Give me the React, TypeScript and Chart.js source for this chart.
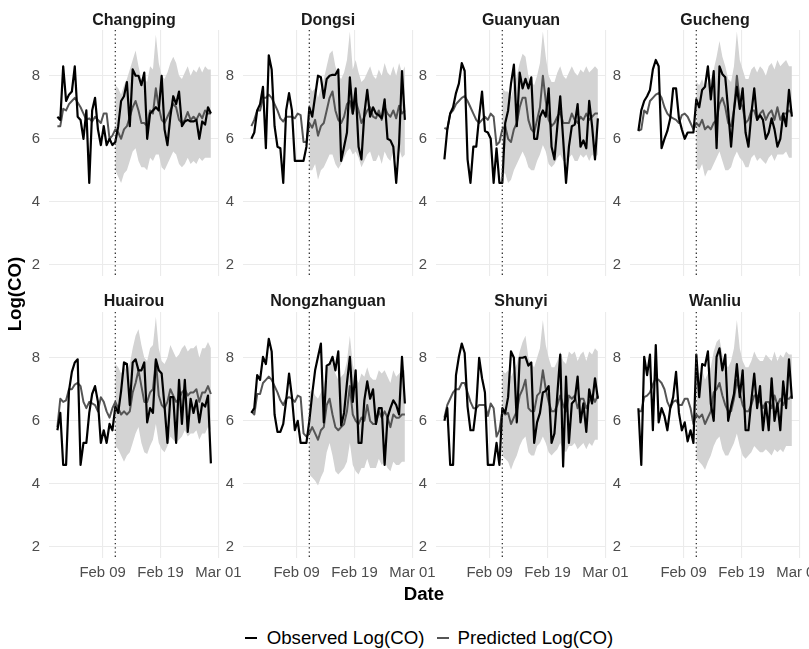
import React, { useEffect, useRef } from "react";
import { Chart, registerables } from "chart.js";

Chart.register(...registerables);

// ---------------- data ----------------
const STATIONS = ["Changping", "Dongsi", "Guanyuan", "Gucheng", "Huairou", "Nongzhanguan", "Shunyi", "Wanliu"];

// time axis: days after Feb 01 00:00, one observation every 12 hours
const FIRST_DAY = 0.2;
const STEP_DAYS = 0.5;
const N_POINTS = 54;
const FORECAST_START = 20; // index where the forecast (ribbon) starts
const X_TICK_DAYS = [8, 18, 28];
const X_TICK_LABELS = ["Feb 09", "Feb 19", "Mar 01"];
const Y_TICKS = [2, 4, 6, 8];

const obsChangping = [6.7,6.6,8.3,7.2,7.4,7.5,8.3,6.7,6.6,6.0,6.9,4.6,6.9,7.3,6.3,5.8,6.4,5.8,6.0,5.8,5.9,6.4,7.2,7.35,7.8,6.4,8.2,8.0,8.0,7.7,8.1,6.0,6.8,6.9,7.0,6.9,8.0,6.3,5.8,6.7,7.35,7.1,7.5,6.4,6.55,6.6,6.55,6.55,6.6,6.0,6.55,6.45,7.0,6.8];
const predChangping = [6.4,6.4,6.95,6.9,7.1,7.2,7.3,7.15,7.0,6.8,6.6,6.65,6.55,6.7,6.6,6.5,6.8,6.8,6.0,6.1,6.3,6.2,6.0,6.3,6.4,6.7,7.0,7.2,6.9,6.5,6.5,6.4,6.9,6.8,7.6,7.0,6.6,6.5,6.7,6.9,7.1,7.0,6.6,6.5,6.6,6.85,6.6,6.7,6.6,6.8,6.65,6.9,6.8,6.8];
const upChangping = [7.7,7.6,7.4,7.7,7.9,8.2,8.5,8.8,8.3,7.9,7.9,7.8,8.3,8.2,9.3,8.4,8.0,7.9,8.1,8.4,8.6,8.4,8.0,7.9,8.1,8.3,8.0,8.2,8.1,8.3,8.1,8.3,8.2,8.2];
const loChangping = [5.0,4.8,4.6,4.9,5.0,5.3,5.6,5.7,5.3,5.1,5.1,5.0,5.4,5.3,5.5,5.5,5.1,5.0,5.2,5.4,5.6,5.5,5.2,5.1,5.2,5.4,5.2,5.3,5.2,5.4,5.3,5.4,5.4,5.4];

const obsDongsi = [6.0,6.2,6.9,7.1,7.65,5.7,8.65,8.2,6.4,5.75,5.7,4.6,6.9,7.45,6.9,5.3,5.3,5.3,5.3,5.75,7.0,6.7,7.35,8.0,7.95,7.3,7.9,8.0,8.03,8.03,8.2,5.3,5.75,6.2,7.95,6.8,7.6,5.75,5.35,6.8,7.55,6.7,7.0,6.8,6.75,6.65,7.25,6.0,5.95,5.75,4.6,5.85,8.15,6.6];
const predDongsi = [6.4,6.6,6.9,6.9,7.3,7.3,7.4,7.3,7.1,6.9,6.65,6.55,6.7,6.7,6.7,6.65,6.8,6.75,5.9,5.9,6.5,6.35,6.6,6.1,6.4,6.5,6.9,7.3,7.5,6.9,6.6,6.5,6.7,7.1,7.2,6.8,7.2,6.9,6.5,6.7,6.9,7.0,6.7,6.65,6.9,6.6,7.0,6.8,6.7,6.9,6.65,7.05,6.8,6.9];
const upDongsi = [7.7,7.5,7.6,7.3,7.6,7.9,8.3,8.7,8.8,8.3,8.0,7.9,8.1,8.5,9.4,8.2,8.5,8.1,7.8,7.9,8.1,8.3,8.0,7.9,8.2,8.0,8.4,8.1,8.0,8.3,8.0,8.4,8.1,8.3];
const loDongsi = [5.0,5.0,5.2,4.7,5.0,5.1,5.3,5.5,5.5,5.2,5.05,5.2,5.4,5.6,5.7,5.5,5.6,5.4,5.1,5.3,5.5,5.6,5.3,5.3,5.5,5.2,5.6,5.4,5.3,5.6,5.3,5.7,5.4,5.5];

const obsGuanyuan = [5.35,6.3,6.8,7.0,7.45,7.75,8.4,8.15,5.35,4.6,5.75,5.75,6.7,7.5,6.25,6.2,6.0,4.6,5.7,4.6,4.6,6.5,6.9,7.75,8.35,6.4,8.1,7.6,7.9,7.6,7.95,6.0,6.0,6.7,6.9,6.7,7.6,5.75,5.35,6.4,7.35,6.0,4.6,5.75,6.4,6.45,7.1,5.75,5.95,5.7,7.2,6.4,5.35,6.65];
const predGuanyuan = [6.35,6.3,6.8,6.9,7.1,7.2,7.3,7.35,7.2,7.0,6.8,6.6,6.5,6.6,6.7,6.6,6.8,6.7,5.8,5.9,6.3,6.4,6.0,5.9,6.3,6.5,7.0,7.3,7.3,6.6,6.3,6.2,6.6,7.0,8.0,7.2,6.6,6.4,6.5,6.7,6.85,6.5,6.5,6.5,6.8,6.6,6.5,6.7,6.6,6.8,6.6,6.7,6.8,6.8];
const upGuanyuan = [7.6,7.5,7.5,7.3,7.7,8.0,8.4,8.7,8.6,8.0,7.8,7.7,8.0,8.4,9.4,8.6,8.0,7.8,7.8,8.1,8.3,8.0,7.9,8.1,8.3,8.1,8.0,8.2,8.1,8.3,8.1,8.2,8.3,8.2];
const loGuanyuan = [4.9,4.9,4.6,4.7,5.0,5.2,5.4,5.6,5.4,5.1,5.0,5.0,5.3,5.5,5.8,5.6,5.2,5.1,5.2,5.4,5.5,5.3,5.3,5.4,5.5,5.3,5.3,5.5,5.4,5.5,5.3,5.5,5.4,5.5];

const obsGucheng = [6.25,6.9,7.2,7.35,7.55,8.2,8.5,8.3,5.7,6.0,6.25,6.65,7.6,7.6,6.65,6.3,6.0,6.2,6.2,6.2,7.25,7.0,7.55,7.65,8.3,7.25,8.15,5.7,8.3,8.05,7.95,6.9,5.75,6.9,7.65,6.95,7.6,6.2,5.75,6.8,7.6,6.6,6.75,6.6,6.0,6.2,6.65,6.3,5.75,6.0,6.8,6.4,7.55,6.7];
const predGucheng = [6.25,6.3,6.9,6.8,7.2,7.3,7.4,7.45,7.3,7.0,6.8,6.7,6.65,6.6,6.5,6.75,6.8,6.7,6.5,6.3,6.5,6.4,6.6,6.3,6.4,6.3,6.5,6.6,7.1,7.3,7.0,6.5,6.4,6.9,8.0,7.2,7.0,6.5,6.6,6.9,6.9,6.6,6.8,6.9,6.6,6.8,6.9,6.6,7.0,6.6,6.8,6.8,6.9,6.8];
const upGucheng = [7.8,7.7,7.9,7.6,7.8,7.9,8.2,8.6,9.1,8.6,8.3,7.9,7.8,8.3,9.4,8.5,8.2,7.9,7.9,8.2,8.3,8.1,8.3,8.2,8.0,8.3,8.4,8.2,8.5,8.3,8.4,8.5,8.3,8.3];
const loGucheng = [5.1,5.0,5.2,4.8,5.0,5.0,5.2,5.4,5.6,5.3,5.0,5.0,5.1,5.4,5.6,5.4,5.3,5.1,5.1,5.4,5.5,5.3,5.4,5.3,5.2,5.4,5.5,5.3,5.5,5.5,5.5,5.6,5.4,5.4];

const obsHuairou = [5.7,6.25,4.6,4.6,6.95,7.55,7.85,7.95,4.6,5.3,5.3,6.25,6.85,7.1,6.6,5.3,5.7,5.3,5.9,5.7,6.45,6.25,6.95,7.85,7.8,6.5,7.85,7.95,7.6,7.6,7.85,5.95,6.4,6.25,7.95,7.6,7.5,6.45,5.3,6.75,6.75,5.3,7.3,5.9,7.3,5.65,6.7,6.25,6.65,5.95,6.55,6.45,6.8,4.65];
const predHuairou = [5.8,6.7,6.6,6.65,7.0,7.0,7.15,7.2,7.1,6.6,6.4,6.6,6.55,6.5,6.3,6.75,6.6,6.3,6.1,6.4,6.6,6.4,6.2,6.3,6.2,6.3,6.9,7.2,7.6,7.1,6.6,6.6,6.9,7.0,7.9,6.8,6.5,6.4,6.6,7.0,6.8,6.6,6.7,6.9,7.0,6.8,6.9,6.9,7.0,6.6,6.9,6.9,7.1,6.85];
const upHuairou = [7.8,7.7,7.5,7.7,7.6,7.8,8.3,8.7,8.9,8.4,8.0,7.9,8.3,8.4,9.3,8.3,7.9,7.8,8.0,8.4,8.2,8.0,8.1,8.3,8.4,8.2,8.3,8.3,8.4,8.0,8.3,8.3,8.5,8.3];
const loHuairou = [5.2,5.1,4.9,4.7,4.9,5.0,5.3,5.6,5.8,5.3,5.0,4.95,5.2,5.4,5.9,5.3,5.1,5.0,5.2,5.5,5.4,5.3,5.4,5.5,5.7,5.5,5.6,5.6,5.7,5.4,5.6,5.6,5.8,5.7];

const obsNongzhanguan = [6.25,6.4,7.45,7.3,8.03,7.8,8.6,8.2,6.2,5.65,5.65,5.9,6.65,7.5,6.75,5.7,6.0,5.3,5.3,5.3,6.0,6.85,7.6,8.03,8.45,5.95,7.75,7.8,8.03,7.6,8.2,5.85,6.25,7.2,8.03,6.6,7.6,5.3,5.3,6.65,7.25,6.7,7.0,5.9,6.4,6.4,4.6,6.1,6.4,6.65,6.5,6.2,8.03,6.55];
const predNongzhanguan = [6.3,6.2,6.85,6.85,7.2,7.3,7.4,7.3,7.1,6.9,6.65,6.5,6.7,6.75,6.7,6.6,6.8,6.75,5.6,5.5,5.6,5.8,5.6,5.4,5.7,5.8,6.5,6.7,6.2,5.8,5.7,5.8,5.9,6.3,7.1,6.2,6.0,5.9,6.1,6.0,6.5,6.0,5.9,5.9,6.3,6.1,6.3,6.1,5.8,6.2,6.1,6.1,6.2,6.2];
const upNongzhanguan = [6.9,7.0,6.8,6.7,6.9,7.1,7.6,7.9,7.8,7.5,7.3,7.4,7.5,7.9,8.7,7.8,7.4,7.2,7.5,7.4,7.7,7.4,7.3,7.3,7.6,7.5,7.6,7.4,7.2,7.6,7.4,7.5,7.6,7.6];
const loNongzhanguan = [4.3,4.2,4.1,3.95,4.2,4.4,5.0,5.3,4.9,4.4,4.3,4.4,4.5,4.7,5.3,4.6,4.4,4.3,4.5,4.5,4.8,4.5,4.5,4.5,4.8,4.6,4.7,4.5,4.4,4.7,4.6,4.6,4.7,4.7];

const obsShunyi = [6.0,6.4,4.6,4.6,7.45,8.03,8.45,8.15,6.45,5.7,5.7,6.45,8.0,7.35,6.9,4.6,4.6,4.6,5.3,4.6,6.4,6.25,6.75,8.2,8.0,5.95,8.0,8.0,8.03,7.75,7.85,5.3,5.95,6.25,6.9,6.95,7.1,5.3,5.6,6.85,8.1,4.55,7.4,5.3,6.55,6.65,7.4,5.95,6.55,5.65,7.0,6.55,7.35,6.7];
const predShunyi = [6.1,6.5,6.7,6.9,7.0,7.0,7.2,7.2,6.9,6.6,6.4,6.4,6.5,6.5,6.5,6.15,6.55,6.4,5.5,5.7,6.3,6.2,6.25,5.9,6.1,6.3,6.8,7.0,7.3,6.4,6.3,6.3,6.8,6.9,7.6,7.0,6.6,6.3,6.3,6.5,6.8,6.5,6.3,6.8,6.7,6.8,6.4,6.7,6.7,6.4,6.6,6.8,6.6,6.8];
const upShunyi = [7.6,7.5,7.6,7.4,7.6,7.8,8.2,8.5,8.7,8.0,7.8,7.7,8.0,8.3,9.2,8.4,8.0,7.7,7.7,7.9,8.2,7.9,7.8,8.2,8.1,8.2,7.9,8.1,8.2,7.9,8.2,8.1,8.3,8.2];
const loShunyi = [4.9,4.8,4.7,4.45,4.7,4.9,5.2,5.4,5.5,5.0,4.9,4.9,5.2,5.3,5.5,5.3,5.0,4.9,5.0,5.1,5.3,5.1,5.0,5.2,5.2,5.3,5.1,5.2,5.3,5.1,5.3,5.2,5.4,5.4];

const obsWanliu = [6.4,4.6,8.03,7.45,8.1,5.7,8.4,5.95,6.4,6.15,5.7,6.4,6.75,7.55,6.25,5.7,5.95,5.35,5.7,5.3,8.1,6.75,7.8,7.75,8.2,6.55,6.0,8.03,8.3,7.6,8.1,6.0,6.45,6.85,7.8,6.75,7.6,5.7,5.7,6.65,7.5,6.4,7.1,5.7,6.55,5.7,7.35,6.0,6.55,5.7,7.25,6.4,7.95,6.7];
const predWanliu = [6.3,6.3,6.75,6.8,6.9,7.15,7.35,7.3,7.2,7.0,6.6,6.4,6.6,6.65,6.5,6.5,6.7,6.7,6.4,5.9,6.2,6.1,6.2,5.9,6.1,6.3,6.9,7.0,7.2,6.8,6.5,6.3,6.3,6.7,7.3,6.9,6.5,6.3,6.3,6.5,6.8,6.8,6.6,6.4,6.6,6.6,6.4,6.8,6.5,6.7,6.5,6.7,6.7,6.8];
const upWanliu = [7.6,7.5,7.6,7.3,7.5,7.7,8.2,8.5,8.6,8.1,7.8,7.7,7.9,8.3,9.2,8.3,7.9,7.7,7.7,7.9,8.2,8.0,7.9,7.9,8.1,8.0,7.9,8.2,7.9,8.1,8.0,8.2,8.1,8.1];
const loWanliu = [4.8,4.7,4.6,4.45,4.7,4.9,5.2,5.4,5.5,5.1,4.9,4.9,5.1,5.3,5.6,5.2,4.9,4.8,4.9,5.0,5.2,5.1,5.0,5.0,5.1,5.0,4.9,5.1,5.0,5.1,5.0,5.2,5.2,5.2];

const OBSERVED = [obsChangping, obsDongsi, obsGuanyuan, obsGucheng, obsHuairou, obsNongzhanguan, obsShunyi, obsWanliu];
const PREDICTED = [predChangping, predDongsi, predGuanyuan, predGucheng, predHuairou, predNongzhanguan, predShunyi, predWanliu];
const UPPER = [upChangping, upDongsi, upGuanyuan, upGucheng, upHuairou, upNongzhanguan, upShunyi, upWanliu];
const LOWER = [loChangping, loDongsi, loGuanyuan, loGucheng, loHuairou, loNongzhanguan, loShunyi, loWanliu];

const TIMES: number[] = Array.from({ length: N_POINTS }, (_, i) => FIRST_DAY + i * STEP_DAYS);

// ---------------- layout ----------------
const FONT = "'Liberation Sans', Arial, Helvetica, sans-serif";
const PANEL_LEFTS = [49, 243, 436, 630];
const ROW_TOPS = [30, 312];
const PANEL_W = 170;
const PANEL_H = 246;
const Y_AXIS_W = 40;
const PAD_T = 6;
const X_MIN = -1.25;
const X_MAX = 28.1;
const Y_MIN = 1.65;
const Y_MAX = 9.45;

const splitLinePlugin = {
  id: "splitLine",
  afterDatasetsDraw(chart: any, _args: any, opts: any) {
    const { ctx, chartArea, scales } = chart;
    const x = scales.x.getPixelForValue(opts.value);
    ctx.save();
    ctx.beginPath();
    ctx.setLineDash([1.3, 2.9]);
    ctx.strokeStyle = "#333333";
    ctx.lineWidth = 1.3;
    ctx.moveTo(x, chartArea.top);
    ctx.lineTo(x, chartArea.bottom);
    ctx.stroke();
    ctx.restore();
  },
};

function pts(vals: number[], offset = 0) {
  return vals.map((y, k) => ({ x: TIMES[k + offset], y }));
}

function zeroPadding(s: any) {
  s.paddingTop = 0;
  s.paddingBottom = 0;
  s.paddingLeft = 0;
  s.paddingRight = 0;
}

function Panel({ idx }: { idx: number }) {
  const ref = useRef<HTMLCanvasElement | null>(null);
  const col = idx % 4;
  const row = Math.floor(idx / 4);
  const isBottom = row === 1;
  const padR = isBottom ? 30 : 6;
  const xAxisH = isBottom ? 32 : 0;
  const padB = isBottom ? 0 : 6;
  const cw = Y_AXIS_W + PANEL_W + padR;
  const ch = PAD_T + PANEL_H + xAxisH + padB;

  useEffect(() => {
    if (!ref.current) return;
    const chart = new Chart(ref.current, {
      type: "line",
      data: {
        datasets: [
          {
            label: "Observed Log(CO)",
            data: pts(OBSERVED[idx]),
            borderColor: "#000000",
            borderWidth: 2.2,
            pointRadius: 0,
            borderJoinStyle: "round",
            fill: false,
          },
          {
            label: "Predicted Log(CO)",
            data: pts(PREDICTED[idx]),
            borderColor: "#555555",
            borderWidth: 2,
            pointRadius: 0,
            borderJoinStyle: "round",
            fill: false,
          },
          {
            label: "upper",
            data: pts(UPPER[idx], FORECAST_START),
            borderColor: "rgba(0,0,0,0)",
            borderWidth: 0,
            backgroundColor: "#d3d3d3",
            pointRadius: 0,
            fill: "+1",
          },
          {
            label: "lower",
            data: pts(LOWER[idx], FORECAST_START),
            borderColor: "rgba(0,0,0,0)",
            borderWidth: 0,
            pointRadius: 0,
            fill: false,
          },
        ],
      } as any,
      options: {
        responsive: false,
        animation: false,
        events: [],
        layout: { autoPadding: false, padding: { left: 0, right: padR, top: PAD_T, bottom: padB } },
        plugins: {
          legend: { display: false },
          tooltip: { enabled: false },
          title: { display: false },
          splitLine: { value: TIMES[FORECAST_START] },
        } as any,
        scales: {
          x: {
            type: "linear",
            min: X_MIN,
            max: X_MAX,
            afterBuildTicks: (s: any) => {
              s.ticks = X_TICK_DAYS.map((v) => ({ value: v }));
            },
            afterFit: (s: any) => {
              s.height = xAxisH;
              zeroPadding(s);
            },
            ticks: {
              display: isBottom,
              autoSkip: false,
              maxRotation: 0,
              padding: 6,
              color: "#4d4d4d",
              font: { family: FONT, size: 14.9 },
              callback: (_v: any, i: number) => X_TICK_LABELS[i],
            },
            grid: { color: "#ebebeb", lineWidth: 1.1, drawTicks: false },
            border: { display: false },
          },
          y: {
            type: "linear",
            min: Y_MIN,
            max: Y_MAX,
            afterBuildTicks: (s: any) => {
              s.ticks = Y_TICKS.map((v) => ({ value: v }));
            },
            afterFit: (s: any) => {
              s.width = Y_AXIS_W;
              zeroPadding(s);
            },
            ticks: {
              padding: 9,
              color: "#4d4d4d",
              font: { family: FONT, size: 14.9 },
              callback: (v: any) => String(v),
            },
            grid: { color: "#ebebeb", lineWidth: 1.1, drawTicks: false },
            border: { display: false },
          },
        },
      } as any,
      plugins: [splitLinePlugin],
    });
    return () => chart.destroy();
  }, [idx]);

  return (
    <canvas
      ref={ref}
      width={cw}
      height={ch}
      style={{
        position: "absolute",
        left: PANEL_LEFTS[col] - Y_AXIS_W,
        top: ROW_TOPS[row] - PAD_T,
        width: cw,
        height: ch,
      }}
    />
  );
}

const STRIP_BASELINES = [25, 306];

export default function App() {
  return (
    <div
      style={{
        position: "absolute",
        left: 0,
        top: 0,
        width: 809,
        height: 649,
        overflow: "hidden",
        background: "#ffffff",
        fontFamily: FONT,
      }}
    >
      {STATIONS.map((name, i) => (
        <Panel key={name} idx={i} />
      ))}
      {STATIONS.map((name, i) => (
        <div
          key={"t" + name}
          style={{
            position: "absolute",
            left: PANEL_LEFTS[i % 4],
            width: PANEL_W,
            top: STRIP_BASELINES[Math.floor(i / 4)] - 13.5,
            height: 16,
            lineHeight: "16px",
            textAlign: "center",
            fontWeight: "bold",
            fontSize: 16,
            color: "#1a1a1a",
            whiteSpace: "nowrap",
          }}
        >
          {name}
        </div>
      ))}
      <div
        style={{
          position: "absolute",
          left: 15 - 60,
          top: 294 - 10,
          width: 120,
          height: 20,
          lineHeight: "20px",
          textAlign: "center",
          transform: "rotate(-90deg)",
          fontWeight: "bold",
          fontSize: 18.7,
          color: "#000",
        }}
      >
        Log(CO)
      </div>
      <div
        style={{
          position: "absolute",
          left: 364,
          width: 120,
          top: 584,
          height: 20,
          lineHeight: "20px",
          textAlign: "center",
          fontWeight: "bold",
          fontSize: 18.7,
          color: "#000",
        }}
      >
        Date
      </div>
      <div
        style={{
          position: "absolute",
          left: 0,
          width: 858,
          top: 628,
          height: 20,
          lineHeight: "20px",
          display: "flex",
          justifyContent: "center",
          alignItems: "center",
          fontSize: 18.7,
          color: "#000",
          whiteSpace: "nowrap",
        }}
      >
        <span style={{ display: "inline-block", width: 12, height: 2.5, background: "#000", marginRight: 10 }} />
        <span style={{ marginRight: 12 }}>Observed Log(CO)</span>
        <span style={{ display: "inline-block", width: 12, height: 2.5, background: "#555555", marginRight: 9 }} />
        <span>Predicted Log(CO)</span>
      </div>
    </div>
  );
}
